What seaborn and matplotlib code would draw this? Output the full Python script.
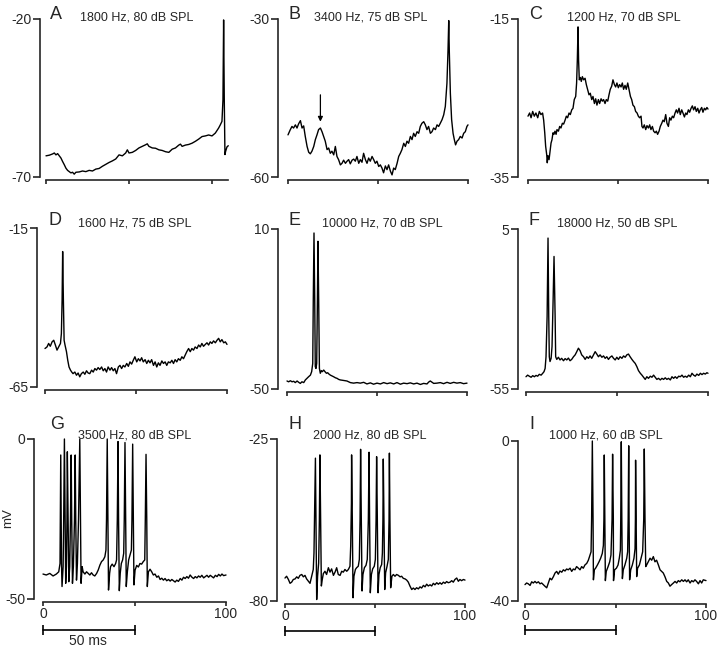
import numpy as np
import matplotlib
matplotlib.use("Agg")
import matplotlib.pyplot as plt
import matplotlib.transforms as mtransforms
import seaborn as sns

# ---- traces (time in ms, membrane potential in mV) ----
time_a = [0, 2, 4, 5, 6, 7, 8, 9, 10, 11, 12, 13, 14, 15, 16, 17, 18, 20, 22, 24, 26, 28, 30, 32, 34,
          36, 38, 40, 42, 44, 46, 48, 49, 50, 52, 54, 56, 58, 60, 61, 62, 64, 66, 68, 70, 72, 74, 76,
          78, 80, 81, 82, 84, 86, 88, 90, 92, 94, 96, 98, 100, 102, 104, 105, 106, 106.6, 107.0,
          107.4, 107.8, 108.2, 109, 109.8]
mv_a = [-63.3, -63.1, -62.7, -62.4, -63.0, -62.6, -63.3, -64.0, -65.1, -66.1, -67.2, -67.9, -68.3,
        -68.7, -68.5, -69.1, -68.5, -68.4, -68.1, -68.3, -67.9, -68.1, -67.5, -67.3, -66.6, -66.0,
        -65.4, -64.9, -64.3, -63.0, -63.3, -62.4, -61.4, -62.4, -62.2, -61.6, -60.8, -60.3, -59.8,
        -59.5, -60.3, -60.8, -60.9, -61.4, -61.6, -62.0, -62.2, -61.2, -60.8, -59.9, -59.6, -60.3,
        -59.9, -59.7, -59.3, -58.7, -58.0, -57.2, -57.0, -56.7, -57.0, -56.1, -54.5, -53.5, -52.4,
        -45.6, -20.3, -45.6, -62.9, -61.9, -60.5, -60.1]

time_b = [0, 1.3, 2.2, 3.1, 4.1, 5.0, 5.9, 6.9, 7.8, 8.7, 9.6, 10.6, 11.5, 12.4, 13.3, 14.3, 15.2,
          16.1, 17.0, 18.0, 18.9, 19.8, 20.7, 21.7, 22.6, 23.5, 24.4, 25.4, 26.3, 27.2, 28.1, 29.1,
          30.0, 30.9, 31.9, 32.8, 33.7, 34.6, 35.6, 36.5, 37.4, 38.3, 39.3, 40.2, 41.1, 42.0, 43.0,
          43.9, 44.8, 45.7, 46.7, 47.6, 48.5, 49.4, 50.4, 51.3, 52.2, 53.1, 54.1, 55.0, 55.9, 56.9,
          57.8, 58.7, 59.6, 60.6, 61.5, 62.4, 63.3, 64.3, 65.2, 66.1, 67.0, 68.0, 68.9, 69.8, 70.7,
          71.7, 72.6, 73.5, 74.4, 75.4, 76.3, 77.2, 78.1, 79.1, 80.0, 80.9, 81.9, 82.8, 83.7, 84.6,
          85.6, 86.5, 87.4, 88.3, 88.9, 89.3, 89.6, 90.2, 90.9, 91.7, 92.4, 93.1, 93.9, 94.8, 95.7,
          96.7, 97.6, 98.5, 99.4, 100]
mv_b = [-52.0, -51.0, -50.4, -50.7, -50.1, -50.7, -49.9, -49.3, -50.7, -50.3, -52.3, -54.2, -55.3,
        -55.6, -55.1, -54.2, -52.9, -52.0, -51.0, -50.7, -51.4, -52.3, -53.2, -54.8, -54.5, -55.5,
        -55.1, -55.8, -54.2, -56.1, -56.7, -57.7, -57.4, -56.8, -57.4, -57.0, -56.7, -57.5, -56.8,
        -56.6, -57.0, -56.1, -57.4, -56.7, -57.2, -55.5, -56.7, -57.4, -56.4, -57.0, -56.1, -56.7,
        -57.4, -57.0, -58.0, -57.7, -58.3, -59.2, -57.9, -58.6, -57.7, -58.9, -59.6, -58.3, -58.6,
        -57.4, -56.1, -55.5, -54.8, -53.6, -54.2, -53.2, -53.6, -52.3, -52.9, -51.7, -52.3, -51.4,
        -51.7, -50.4, -49.8, -49.5, -50.1, -51.0, -50.4, -51.7, -51.4, -50.7, -51.0, -50.1, -50.4,
        -49.8, -49.1, -48.2, -46.6, -42.2, -35.9, -30.3, -35.9, -44.1, -49.1, -51.7, -52.9, -53.9,
        -53.2, -52.9, -52.3, -52.6, -51.7, -51.4, -50.4, -50.1]

time_c = [0, 0.9, 1.7, 2.6, 3.5, 4.4, 5.4, 6.3, 7.2, 8.1, 8.7, 9.3, 9.8, 10.4, 10.7, 11.1, 11.7, 12.2,
          12.8, 13.3, 13.9, 14.4, 15.0, 15.6, 16.1, 16.9, 17.6, 18.3, 19.1, 19.8, 20.6, 21.3, 22.0,
          22.8, 23.5, 24.3, 25.0, 25.7, 26.5, 27.0, 27.4, 27.8, 28.1, 28.5, 29.1, 29.6, 30.2, 30.9,
          31.7, 32.4, 33.1, 33.9, 34.6, 35.4, 36.1, 36.9, 37.6, 38.3, 39.1, 39.8, 40.6, 41.3, 42.0,
          42.8, 43.5, 44.3, 45.0, 45.7, 46.5, 47.2, 48.0, 48.7, 49.4, 50.2, 50.9, 51.7, 52.4, 53.1,
          53.9, 54.6, 55.4, 56.1, 56.9, 57.6, 58.3, 59.1, 59.8, 60.6, 61.3, 62.0, 62.8, 63.3, 63.9,
          64.6, 65.4, 66.1, 66.9, 67.6, 68.3, 69.1, 69.8, 70.6, 71.3, 72.0, 72.8, 73.5, 74.3, 75.0,
          75.7, 76.5, 77.2, 78.0, 78.7, 79.4, 80.2, 80.9, 81.7, 82.4, 83.1, 83.9, 84.6, 85.4, 86.1,
          86.9, 87.6, 88.3, 89.1, 89.8, 90.6, 91.3, 92.0, 92.8, 93.5, 94.3, 95.0, 95.7, 96.5, 97.2,
          98.0, 98.7, 99.4, 100]
mv_c = [-27.3, -26.9, -27.5, -26.7, -27.3, -26.9, -27.5, -26.7, -27.1, -26.9, -27.8, -29.4, -31.1,
        -32.2, -33.2, -32.3, -32.8, -31.8, -30.7, -30.3, -29.4, -29.6, -29.2, -29.6, -29.0, -29.2,
        -28.6, -28.8, -28.2, -28.3, -27.8, -27.3, -27.5, -26.9, -27.1, -26.5, -26.3, -25.2, -24.8,
        -23.1, -20.2, -16.0, -20.2, -22.7, -22.4, -22.9, -22.3, -22.7, -22.5, -23.3, -23.9, -24.6,
        -24.4, -25.2, -24.8, -25.7, -25.1, -25.9, -25.2, -25.7, -25.1, -25.4, -25.2, -25.7, -25.2,
        -25.4, -24.6, -23.9, -23.5, -22.7, -23.3, -23.6, -23.1, -23.7, -23.3, -23.6, -23.1, -23.9,
        -23.4, -23.9, -23.1, -23.9, -24.8, -25.2, -25.9, -26.1, -26.7, -26.9, -27.3, -27.5, -27.3,
        -28.6, -28.8, -28.4, -29.0, -28.5, -28.8, -28.4, -29.0, -28.6, -29.2, -29.4, -29.2, -29.6,
        -29.2, -28.6, -28.2, -27.8, -28.0, -27.1, -28.2, -28.6, -27.5, -27.8, -27.3, -27.5, -26.9,
        -26.5, -26.9, -26.3, -27.1, -26.5, -26.9, -27.4, -26.9, -27.1, -26.5, -26.8, -26.3, -26.0,
        -26.5, -26.1, -26.7, -26.3, -26.9, -26.5, -26.2, -26.8, -26.3, -26.5, -26.2, -26.4]

time_d = [0, 1.1, 2.0, 2.9, 3.9, 4.8, 5.7, 6.6, 7.5, 8.5, 9.0, 9.4, 9.7, 10.1, 10.5, 11.0, 11.8,
          12.5, 13.2, 14.0, 14.7, 15.4, 16.4, 17.3, 18.2, 19.1, 20.0, 21.0, 21.9, 22.8, 23.7, 24.6,
          25.6, 26.5, 27.4, 28.3, 29.2, 30.1, 31.1, 32.0, 32.9, 33.8, 34.7, 35.7, 36.6, 37.5, 38.4,
          39.3, 40.3, 41.2, 42.1, 43.0, 43.9, 44.9, 45.8, 46.7, 47.6, 48.5, 49.4, 50.4, 51.3, 52.2,
          53.1, 54.0, 55.0, 55.9, 56.8, 57.7, 58.6, 59.6, 60.5, 61.4, 62.3, 63.2, 64.2, 65.1, 66.0,
          66.9, 67.8, 68.8, 69.7, 70.6, 71.5, 72.4, 73.3, 74.3, 75.2, 76.1, 77.0, 77.9, 78.9, 79.8,
          80.7, 81.6, 82.5, 83.5, 84.4, 85.3, 86.2, 87.1, 88.1, 89.0, 89.9, 90.8, 91.7, 92.6, 93.6,
          94.5, 95.4, 96.3, 97.2, 98.2, 99.1, 100]
mv_d = [-52.9, -52.4, -51.3, -52.2, -50.8, -50.3, -51.8, -53.4, -52.4, -51.3, -48.2, -37.6, -22.4,
        -37.6, -50.3, -51.8, -53.9, -56.6, -58.7, -59.7, -60.3, -60.8, -60.3, -61.3, -60.6, -61.8,
        -60.8, -60.3, -61.0, -59.9, -60.6, -60.8, -59.7, -60.3, -59.2, -59.7, -58.9, -59.5, -58.7,
        -59.9, -59.2, -60.3, -58.7, -59.7, -58.9, -59.9, -59.2, -60.8, -58.7, -58.2, -59.2, -58.2,
        -58.7, -57.6, -58.5, -57.1, -57.8, -56.6, -55.5, -57.1, -56.1, -56.8, -55.8, -57.1, -56.4,
        -57.6, -56.6, -57.4, -56.4, -58.2, -57.1, -58.7, -57.4, -58.2, -56.8, -57.6, -57.1, -58.2,
        -57.1, -57.4, -56.6, -57.6, -56.4, -57.1, -56.1, -56.6, -55.5, -56.1, -55.0, -53.9, -52.9,
        -53.9, -52.9, -53.4, -52.4, -52.9, -51.8, -52.4, -51.3, -52.2, -51.6, -51.1, -51.8, -50.8,
        -51.3, -50.5, -51.1, -50.3, -49.7, -50.8, -50.1, -51.1, -50.8, -51.6]

time_e = [0, 0.9, 1.9, 2.8, 3.7, 4.6, 5.6, 6.5, 7.4, 8.3, 9.3, 10.2, 11.1, 12.0, 13.0, 13.7, 14.3,
          14.6, 15.0, 15.4, 15.7, 16.1, 16.5, 16.9, 17.2, 17.6, 18.0, 18.5, 19.1, 19.6, 20.4, 21.1,
          21.9, 22.6, 23.3, 24.1, 25.0, 25.9, 26.9, 27.8, 28.7, 29.6, 31.5, 33.3, 35.2, 37.0, 38.9,
          40.7, 42.6, 44.4, 46.3, 48.1, 50.0, 51.9, 53.7, 55.6, 57.4, 59.3, 61.1, 63.0, 64.8, 66.7,
          68.5, 70.4, 72.2, 74.1, 75.9, 77.8, 78.7, 79.6, 81.5, 83.3, 85.2, 87.0, 88.9, 90.7, 92.6,
          94.4, 96.3, 98.1, 100]
mv_e = [-47.0, -47.3, -46.9, -47.3, -47.1, -47.6, -47.0, -47.5, -47.9, -47.3, -47.6, -46.6, -46.0,
        -45.4, -44.8, -43.5, -40.4, -16.6, 8.5, -16.6, -41.6, -42.3, -40.4, -16.6, 5.4, -16.6, -42.3,
        -44.1, -43.1, -43.5, -42.9, -43.5, -44.1, -43.9, -44.4, -44.8, -45.1, -45.4, -45.8, -46.0,
        -46.4, -46.6, -46.8, -47.0, -47.6, -47.8, -47.6, -47.8, -47.5, -48.1, -47.7, -48.2, -47.8,
        -48.1, -47.6, -48.0, -47.7, -48.1, -47.6, -48.2, -47.8, -48.0, -47.7, -48.1, -47.8, -48.3,
        -47.9, -48.1, -47.4, -47.0, -47.9, -47.8, -47.6, -48.0, -47.5, -47.9, -47.5, -47.8, -47.6,
        -48.0, -47.8]

time_f = [0, 0.9, 1.8, 2.8, 3.7, 4.6, 5.5, 6.4, 7.3, 8.3, 9.2, 9.9, 10.5, 11.0, 11.6, 12.1, 12.5,
          12.8, 13.2, 13.8, 14.3, 14.9, 15.4, 16.0, 16.3, 16.9, 17.8, 18.7, 19.6, 20.6, 21.5, 22.4,
          23.3, 24.2, 25.1, 26.1, 27.0, 27.9, 28.8, 29.7, 30.6, 31.6, 32.5, 33.4, 34.3, 35.2, 36.1,
          37.1, 38.0, 38.9, 39.8, 40.7, 41.7, 42.6, 43.5, 44.4, 45.3, 46.2, 47.2, 48.1, 49.0, 49.9,
          50.8, 51.7, 52.7, 53.6, 54.5, 55.4, 56.3, 57.2, 58.2, 59.1, 60.0, 60.9, 61.8, 62.8, 63.7,
          64.6, 65.5, 66.4, 67.3, 68.3, 69.2, 70.1, 71.0, 71.9, 72.8, 73.8, 74.7, 75.6, 76.5, 77.4,
          78.3, 79.3, 80.2, 81.1, 82.0, 82.9, 83.9, 84.8, 85.7, 86.6, 87.5, 88.4, 89.4, 90.3, 91.2,
          92.1, 93.0, 93.9, 94.9, 95.8, 96.7, 97.6, 98.5, 99.4, 100]
mv_f = [-50.4, -49.8, -50.2, -50.6, -50.0, -50.4, -49.9, -50.2, -49.5, -49.8, -49.1, -48.5, -47.3,
        -42.9, -27.8, 1.6, -27.8, -42.9, -44.7, -43.5, -39.1, -21.6, -5.3, -27.8, -42.9, -43.9,
        -43.1, -44.1, -43.5, -44.4, -43.6, -44.1, -43.4, -44.4, -43.9, -42.9, -42.2, -41.0, -39.7,
        -40.6, -42.2, -42.9, -43.9, -42.9, -43.5, -42.6, -43.5, -42.2, -41.0, -41.9, -42.9, -42.2,
        -43.1, -42.6, -43.5, -42.9, -43.9, -43.1, -42.6, -43.5, -44.1, -43.1, -43.9, -42.9, -43.5,
        -42.6, -43.1, -42.2, -41.9, -42.9, -43.9, -44.7, -45.4, -46.6, -48.1, -49.1, -49.8, -50.6,
        -51.4, -50.4, -51.0, -50.2, -50.6, -49.8, -50.6, -51.4, -51.0, -51.6, -51.0, -51.4, -50.8,
        -51.4, -51.0, -51.6, -50.4, -51.0, -50.4, -51.0, -50.2, -50.4, -49.8, -50.6, -50.2, -50.6,
        -49.8, -50.4, -49.1, -49.8, -50.2, -49.4, -49.9, -49.1, -49.6, -49.1, -49.4, -48.9, -49.1]

time_g = [0, 1.8, 3.7, 5.5, 7.3, 8.6, 9.3, 9.7, 10.1, 10.4, 11.0, 11.3, 11.7, 12.1, 12.4, 12.8, 13.1,
          13.3, 13.7, 14.1, 14.6, 15.0, 15.4, 15.7, 16.1, 16.6, 17.2, 17.6, 17.9, 18.3, 18.8, 19.4,
          20.1, 20.5, 20.8, 21.4, 21.9, 22.9, 23.8, 24.7, 25.6, 26.5, 27.4, 28.3, 29.3, 30.2, 31.1,
          32.0, 32.9, 33.8, 34.4, 34.7, 35.1, 35.5, 35.8, 36.4, 36.9, 37.8, 38.8, 39.7, 40.2, 40.6,
          41.0, 41.3, 41.7, 42.2, 42.8, 43.5, 44.1, 44.4, 44.8, 45.2, 45.5, 46.1, 46.8, 47.5, 48.3,
          48.6, 49.0, 49.4, 49.7, 50.3, 51.2, 52.1, 53.0, 53.9, 54.8, 55.6, 55.9, 56.3, 56.7, 57.0,
          57.6, 58.5, 59.4, 60.3, 61.2, 62.2, 63.1, 64.0, 64.9, 65.8, 66.7, 67.6, 68.6, 69.5, 70.4,
          71.3, 72.2, 73.1, 74.0, 75.0, 75.9, 76.8, 77.7, 78.6, 79.5, 80.4, 81.4, 82.3, 83.2, 84.1,
          85.0, 85.9, 86.8, 87.8, 88.7, 89.6, 90.5, 91.4, 92.3, 93.2, 94.2, 95.1, 96.0, 96.9, 97.8,
          98.7, 100]
mv_g = [-42.2, -42.5, -42.0, -42.8, -42.2, -41.5, -38.9, -5.0, -38.9, -46.1, -39.9, -25.3, 0.0,
        -25.3, -45.1, -39.9, -25.3, -4.0, -25.3, -44.6, -39.9, -25.3, -5.0, -25.3, -45.1, -39.9,
        -25.3, -5.0, -25.3, -44.1, -38.9, -25.3, 0.0, -25.3, -45.1, -39.9, -41.5, -42.2, -41.5,
        -42.0, -42.5, -41.8, -42.5, -42.8, -42.0, -40.9, -39.4, -38.3, -37.8, -36.8, -34.7, -25.3,
        0.0, -25.3, -47.2, -42.0, -39.9, -39.1, -39.9, -38.9, -37.8, -25.3, -0.8, -25.3, -47.4,
        -42.0, -38.9, -37.8, -35.7, -25.3, -1.1, -25.3, -46.1, -41.5, -37.8, -36.3, -34.7, -25.3,
        -1.6, -25.3, -45.6, -41.0, -39.5, -40.0, -38.9, -39.1, -38.3, -37.8, -25.3, -4.8, -25.3,
        -46.1, -41.5, -40.7, -41.5, -42.5, -42.2, -43.2, -42.8, -43.9, -43.5, -44.1, -43.6, -44.3,
        -43.9, -44.4, -43.9, -44.3, -44.7, -44.1, -44.5, -43.6, -44.1, -43.2, -43.6, -43.0, -43.5,
        -42.5, -43.2, -43.6, -43.0, -43.4, -42.8, -43.2, -42.6, -43.4, -43.0, -42.6, -43.2, -42.6,
        -43.0, -43.4, -42.6, -43.0, -42.3, -42.8, -42.2, -42.7, -42.5]

time_h = [0, 0.9, 1.9, 2.8, 3.7, 4.6, 5.6, 6.5, 7.4, 8.3, 9.3, 10.2, 11.1, 12.0, 13.0, 13.9, 14.8,
          15.7, 16.1, 16.5, 16.9, 17.2, 17.6, 18.1, 18.7, 19.1, 19.4, 19.8, 20.2, 20.7, 21.3, 22.2,
          23.1, 24.1, 25.0, 25.9, 26.9, 27.8, 28.7, 29.6, 30.6, 31.5, 32.4, 33.3, 34.3, 35.2, 36.1,
          36.5, 36.9, 37.0, 37.4, 37.8, 38.3, 39.1, 39.8, 40.7, 41.3, 41.7, 42.0, 42.4, 42.8, 43.3,
          44.1, 45.0, 45.7, 46.3, 46.7, 47.0, 47.4, 48.0, 48.7, 49.6, 50.2, 50.6, 50.9, 51.3, 51.7,
          52.2, 52.9, 53.7, 54.1, 54.4, 54.6, 55.0, 55.4, 55.9, 56.7, 57.4, 57.8, 58.0, 58.3, 58.7,
          59.4, 60.2, 61.1, 62.0, 63.0, 63.9, 64.8, 65.7, 66.7, 67.6, 68.5, 69.4, 70.4, 71.3, 72.2,
          73.1, 74.1, 75.0, 75.9, 76.9, 77.8, 78.7, 79.6, 80.6, 81.5, 82.4, 83.3, 84.3, 85.2, 86.1,
          87.0, 88.0, 88.9, 89.8, 90.7, 91.7, 92.6, 93.5, 94.4, 95.4, 96.3, 97.2, 98.1, 99.1, 100]
mv_h = [-72.2, -71.6, -72.7, -74.0, -73.6, -72.7, -72.5, -71.8, -72.3, -71.3, -71.0, -71.8, -71.3,
        -72.5, -73.3, -74.0, -71.6, -69.3, -63.7, -46.8, -31.5, -52.4, -79.5, -71.6, -67.1, -52.4,
        -30.4, -52.4, -74.9, -72.7, -70.7, -69.9, -71.0, -68.7, -70.2, -69.1, -71.3, -70.2, -68.7,
        -71.0, -71.3, -69.9, -70.2, -69.3, -69.9, -69.3, -68.2, -61.4, -46.8, -30.4, -52.4, -78.9,
        -71.6, -69.3, -68.7, -68.2, -65.9, -52.4, -28.5, -52.4, -76.6, -71.0, -68.7, -67.9, -65.9,
        -52.4, -29.5, -52.4, -77.2, -71.0, -69.1, -68.2, -65.9, -52.4, -31.0, -52.4, -77.2, -71.0,
        -68.7, -67.6, -63.7, -52.4, -31.8, -52.4, -76.1, -70.4, -68.2, -65.9, -52.4, -29.8, -52.4,
        -75.5, -71.6, -71.0, -71.6, -71.0, -71.3, -71.8, -71.6, -72.3, -72.5, -72.9, -73.6, -74.9,
        -76.1, -75.6, -76.1, -75.5, -75.9, -75.2, -75.6, -74.7, -75.2, -74.3, -74.9, -74.5, -74.9,
        -74.0, -74.5, -73.8, -74.3, -73.8, -74.3, -73.6, -74.0, -73.4, -73.8, -73.6, -73.1, -73.6,
        -72.7, -72.2, -73.3, -72.7, -73.1, -72.7, -72.9]

time_i = [0, 0.9, 1.8, 2.8, 3.7, 4.6, 5.5, 6.4, 7.4, 8.3, 9.2, 10.1, 11.0, 12.0, 12.9, 13.8, 14.7,
          15.7, 16.6, 17.5, 18.4, 19.3, 20.3, 21.2, 22.1, 23.0, 23.9, 24.9, 25.8, 26.7, 27.6, 28.5,
          29.5, 30.4, 31.3, 32.2, 33.1, 34.1, 35.0, 35.9, 36.5, 36.8, 37.2, 37.6, 37.8, 38.3, 39.0,
          40.0, 40.9, 41.8, 42.7, 43.3, 43.6, 43.8, 44.1, 44.4, 44.9, 45.9, 46.8, 47.5, 48.1, 48.4,
          48.8, 48.9, 49.5, 50.5, 51.4, 52.1, 52.7, 52.9, 53.2, 53.5, 53.8, 54.3, 55.2, 56.2, 56.7,
          57.0, 57.3, 57.5, 57.8, 58.4, 59.3, 60.2, 60.8, 61.0, 61.1, 61.4, 61.7, 62.2, 63.2, 64.1,
          65.0, 65.6, 65.9, 66.3, 66.7, 67.2, 68.1, 69.1, 70.0, 70.9, 71.8, 72.7, 73.7, 74.6, 75.5,
          76.4, 77.3, 78.3, 79.2, 80.1, 81.0, 82.0, 82.9, 83.8, 84.7, 85.6, 86.6, 87.5, 88.4, 89.3,
          90.2, 91.2, 92.1, 93.0, 93.9, 94.8, 95.8, 96.7, 97.6, 98.5, 100]
mv_i = [-35.9, -35.5, -35.7, -36.1, -35.2, -35.5, -35.1, -35.5, -35.2, -35.7, -35.5, -35.9, -36.3,
        -36.7, -35.5, -34.3, -34.7, -33.9, -33.0, -32.6, -33.3, -32.5, -32.8, -32.2, -32.5, -32.0,
        -32.2, -31.8, -32.6, -32.0, -32.2, -31.4, -31.8, -32.2, -31.4, -31.8, -31.0, -30.6, -29.8,
        -28.5, -27.7, -19.5, 0.0, -19.5, -34.7, -32.2, -31.8, -31.0, -30.2, -29.3, -28.1, -26.1,
        -19.5, -3.5, -19.5, -34.9, -32.6, -31.4, -30.2, -28.5, -19.5, -3.3, -19.5, -34.9, -32.2,
        -31.8, -31.0, -29.3, -27.3, -19.5, -0.2, -19.5, -34.4, -32.2, -31.0, -29.3, -27.7, -19.5,
        -1.2, -19.5, -34.7, -32.2, -31.0, -29.3, -26.9, -19.5, -4.8, -19.5, -33.9, -31.8, -31.0,
        -29.3, -27.7, -19.5, -2.0, -19.5, -31.4, -31.0, -30.2, -29.3, -29.8, -28.9, -30.2, -29.8,
        -31.0, -32.2, -32.6, -33.0, -33.9, -35.1, -35.5, -36.3, -35.9, -35.5, -35.1, -35.5, -34.9,
        -35.2, -34.7, -35.1, -34.7, -35.2, -34.7, -35.5, -34.9, -35.2, -34.7, -35.1, -35.7, -34.9,
        -35.5, -34.7, -34.9]

letters = ["A", "B", "C", "D", "E", "F", "G", "H", "I"]
titles = ["1800 Hz, 80 dB SPL", "3400 Hz, 75 dB SPL", "1200 Hz, 70 dB SPL",
          "1600 Hz, 75 dB SPL", "10000 Hz, 70 dB SPL", "18000 Hz, 50 dB SPL",
          "3500 Hz, 80 dB SPL", "2000 Hz, 80 dB SPL", "1000 Hz, 60 dB SPL"]
y_ranges = [(-70, -20), (-60, -30), (-35, -15),
            (-65, -15), (-50, 10), (-55, 5),
            (-50, 0), (-80, -25), (-40, 0)]
x_ticks = [0, 50, 100]
scale_bar_ms = 50
arrow_time_b = 18.0
arrow_mv_b = (-44.4, -49.5)

times = [time_a, time_b, time_c, time_d, time_e, time_f, time_g, time_h, time_i]
volts = [mv_a, mv_b, mv_c, mv_d, mv_e, mv_f, mv_g, mv_h, mv_i]

# ---- layout in pixels: y-spine x, x=0 px, x=100 px, top px, bottom px, last time ----
W, H = 720, 650
layout = [(40, 46, 212, 19, 177, 109.8), (278, 288, 468, 19, 177, 100), (518, 528, 708, 19, 177, 100),
          (37, 45, 227, 228, 387, 100), (278, 287, 467, 229, 389, 100), (518, 526, 708, 229, 389, 100),
          (34, 43, 226, 439, 599, 100), (277, 285, 465, 439, 601, 100), (518, 525, 706, 441, 601, 100)]
letter_pos = [(50, 19), (289, 19), (529, 19), (49, 225), (288, 225), (528, 225),
              (50, 429), (288, 429), (529, 429)]
title_pos = [(80, 21), (314, 21), (567, 21), (78, 227), (322, 227), (557, 227),
             (78, 438), (313, 438), (549, 438)]
scale_bar_px = [630, 631, 630]

sns.set_style("ticks")
plt.rcParams["font.family"] = ["Liberation Sans", "DejaVu Sans"]
plt.rcParams["axes.linewidth"] = 1.2

fig = plt.figure(figsize=(W / 100, H / 100), dpi=100)

for k in range(9):
    yax, x0, x100, top, bot, tmax = layout[k]
    scale = (x100 - x0) / 100.0
    tmin = -(x0 - yax) / scale
    right = x0 + tmax * scale
    ax = fig.add_axes([yax / W, 1 - bot / H, (right - yax) / W, (bot - top) / H])
    ax.patch.set_alpha(0)

    sns.lineplot(x=times[k], y=volts[k], ax=ax, color="black", linewidth=1.0,
                 estimator=None, sort=False)
    for line in ax.lines:
        line.set_clip_on(False)

    ymin, ymax = y_ranges[k]
    ax.set_xlim(tmin, tmax)
    ax.set_ylim(ymin, ymax)
    ax.set_xlabel("")
    ax.set_ylabel("")

    sns.despine(ax=ax)
    ax.spines["bottom"].set_position(("outward", 2.5))
    ax.spines["bottom"].set_bounds(0, tmax)
    ax.spines["left"].set_bounds(ymin, ymax)

    ax.set_yticks([ymin, ymax])
    ax.set_yticklabels([str(ymin), str(ymax)])
    ax.set_xticks(x_ticks)
    if k >= 6:
        ax.set_xticklabels(["0", "", "100"])
    else:
        ax.set_xticklabels([])
    ax.tick_params(axis="y", direction="out", length=5, width=1.2, pad=1, labelsize=10)
    ax.tick_params(axis="x", direction="out", length=3, width=1.2, pad=0.5, labelsize=10)

    fig.text(letter_pos[k][0] / W, 1 - letter_pos[k][1] / H, letters[k], fontsize=13,
             ha="left", va="baseline")
    fig.text(title_pos[k][0] / W, 1 - title_pos[k][1] / H, titles[k], fontsize=9,
             ha="left", va="baseline")

    if k == 1:
        ax.annotate("", xy=(arrow_time_b, arrow_mv_b[1]), xytext=(arrow_time_b, arrow_mv_b[0]),
                    arrowprops=dict(arrowstyle="-|>", color="black", lw=0.9,
                                    mutation_scale=7, shrinkA=0, shrinkB=0))

    if k >= 6:
        trans = mtransforms.blended_transform_factory(ax.transData, fig.transFigure)
        yb = 1 - scale_bar_px[k - 6] / H
        ax.plot([0, scale_bar_ms], [yb, yb], transform=trans, color="black", lw=1.2,
                marker="|", markersize=7, mew=1.2, clip_on=False)

fig.text(8 / W, 1 - 518 / H, "mV", rotation=90, fontsize=9.5, ha="center", va="center")
fig.text(88 / W, 1 - 641 / H, "50 ms", fontsize=10, ha="center", va="center")

fig.savefig("out.png", dpi=100)
